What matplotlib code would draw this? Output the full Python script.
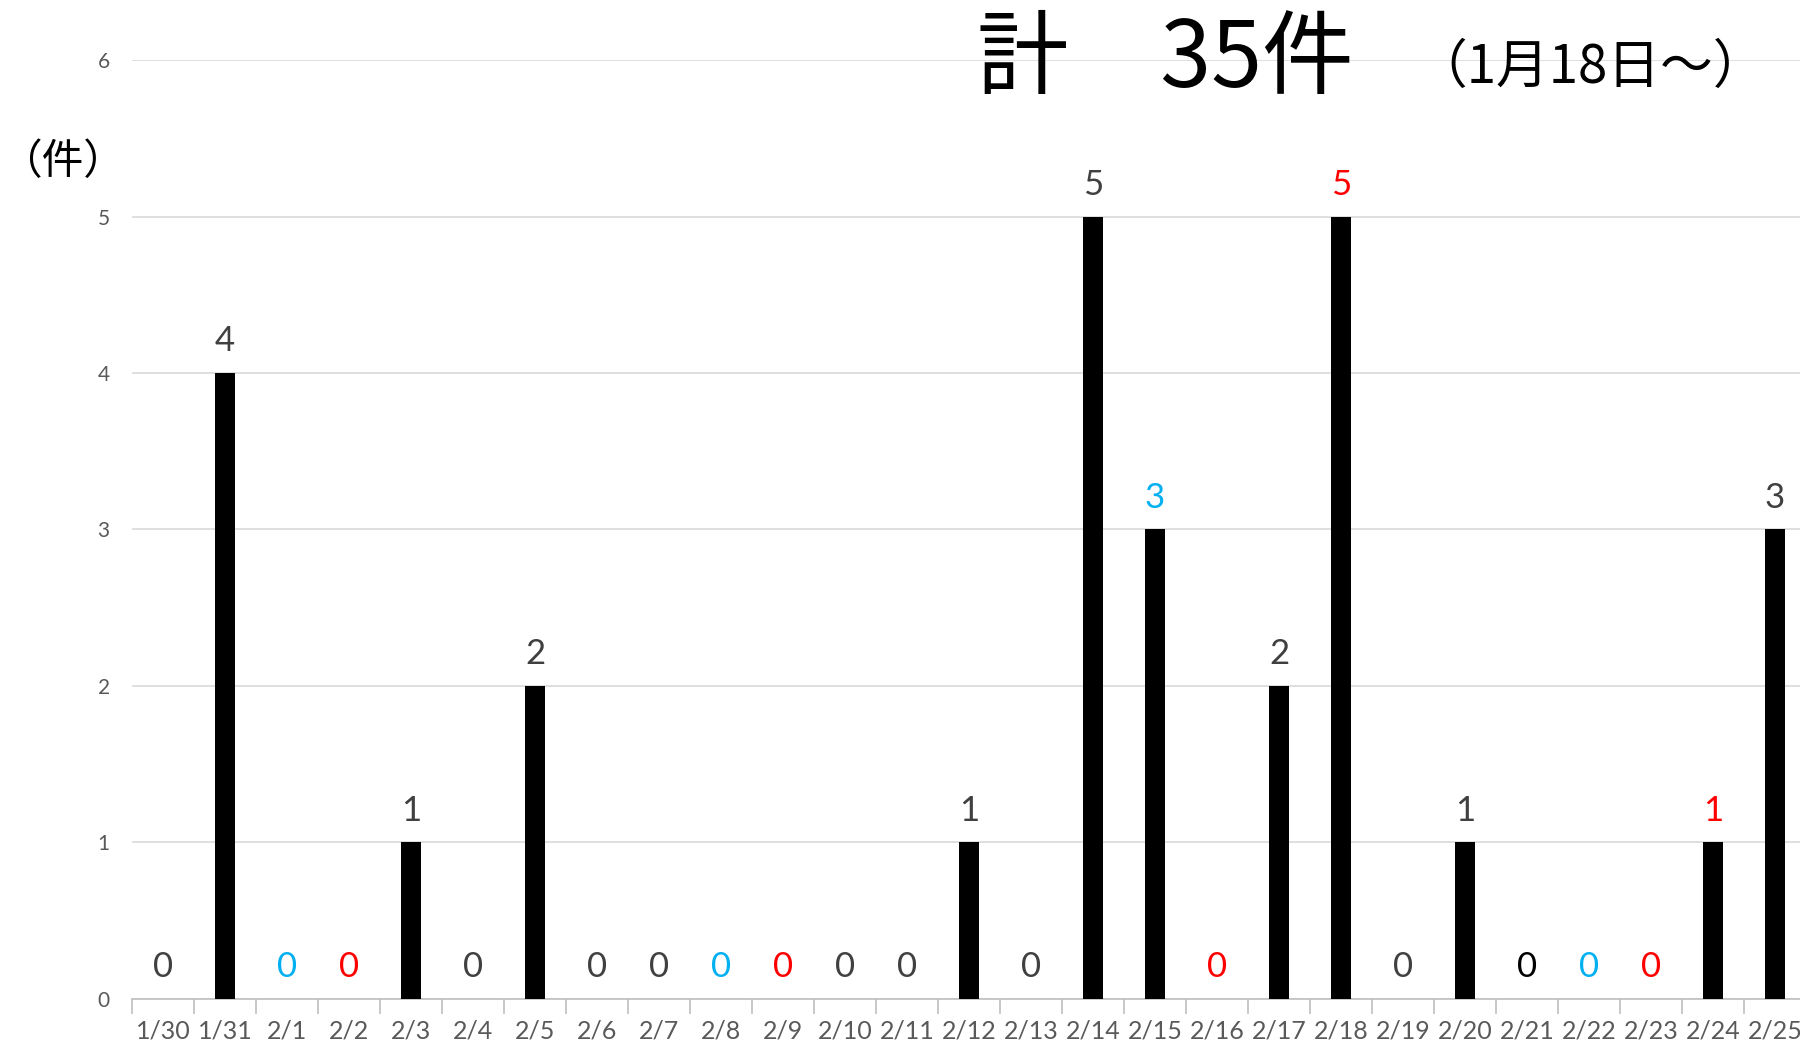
import matplotlib
matplotlib.use("Agg")
import matplotlib.pyplot as plt

# datos del grafico
dates = ["1/30", "1/31", "2/1", "2/2", "2/3", "2/4", "2/5", "2/6", "2/7", "2/8",
         "2/9", "2/10", "2/11", "2/12", "2/13", "2/14", "2/15", "2/16", "2/17",
         "2/18", "2/19", "2/20", "2/21", "2/22", "2/23", "2/24", "2/25"]
counts = [0, 4, 0, 0, 1, 0, 2, 0, 0, 0, 0, 0, 0, 1, 0, 5, 3, 0, 2, 5, 0, 1, 0, 0, 0, 1, 3]
# g = gris, b = azul (sabado), r = rojo (domingo/festivo), k = negro
label_kinds = ["g", "g", "b", "r", "g", "g", "g", "g", "g", "b",
               "r", "g", "g", "g", "g", "g", "b", "r", "g",
               "r", "g", "g", "k", "b", "r", "r", "g"]
yticks = [0, 1, 2, 3, 4, 5, 6]
title_main = "計　35件"
title_sub = "（1月18日～）"
unit_label = "（件）"

kind_colors = {"g": "#404040", "b": "#00B0F0", "r": "#FF0000", "k": "#000000"}

tick_font = "Lato"
jp_font = ["Noto Sans CJK JP", "DejaVu Sans"]

fig = plt.figure(figsize=(18, 10.46), dpi=100)
ax = fig.add_axes([0.0733, 0.045, 0.93, 0.8976])

x = list(range(len(dates)))
ax.bar(x, counts, width=0.32, color="black", zorder=3)

for i, (v, k) in enumerate(zip(counts, label_kinds)):
    ax.annotate(str(v), (i, v), xytext=(0, 23), textcoords="offset points",
                ha="center", va="center", fontsize=25, family=tick_font,
                color=kind_colors[k])

ax.set_xlim(-0.5, len(dates) - 0.5)
ax.set_ylim(0, 6)
ax.set_yticks(yticks)
ax.yaxis.grid(True, color="#D9D9D9", linewidth=1.2, zorder=0)
ax.set_xticks(x)
ax.set_xticklabels(dates)
ax.set_xticks([i - 0.5 for i in range(len(dates) + 1)], minor=True)
ax.tick_params(axis="x", which="major", length=0, pad=15, labelsize=18,
               labelcolor="#595959")
ax.tick_params(axis="x", which="minor", length=11, width=1.2, color="#BFBFBF")
ax.tick_params(axis="y", length=0, pad=16, labelsize=15, labelcolor="#595959")
for lab in ax.get_xticklabels() + ax.get_yticklabels():
    lab.set_family(tick_font)

for s in ["top", "right", "left"]:
    ax.spines[s].set_visible(False)
ax.spines["bottom"].set_color("#BFBFBF")
ax.spines["bottom"].set_linewidth(1.2)

fig.text(0.543, 0.942, title_main, fontsize=66, family=jp_font, ha="left",
         va="center", color="black")
fig.text(0.786, 0.936, title_sub, fontsize=38, family=jp_font, ha="left",
         va="center", color="black")
fig.text(0.0, 0.845, unit_label, fontsize=30, family=jp_font, ha="left",
         va="center", color="black")

fig.savefig("out.png", dpi=100)
plt.close(fig)
